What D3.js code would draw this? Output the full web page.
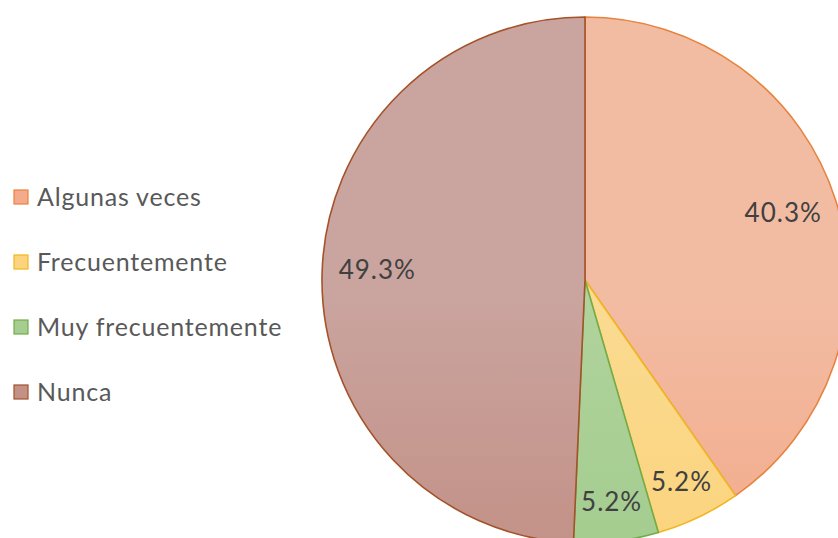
<!DOCTYPE html>
<html>
	<head>
		<meta charset="utf-8">
		<title></title>
		<style>
			body { margin: 0; background: #fff; }
			text { font-family: Lato, "Open Sans", sans-serif; }
		</style>
	</head>
	<body>
	<script src="https://d3js.org/d3.v7.min.js"></script>
	<script>
		var categories = ["Algunas veces", "Frecuentemente", "Muy frecuentemente", "Nunca"];
		var values = [40.3, 5.2, 5.2, 49.3];
		var labels = ["40.3%", "5.2%", "5.2%", "49.3%"];

		var fillTop    = ["#F2BCA3", "#FADB92", "#B0D39C", "#CAA49F"];
		var fillBottom = ["#F49A74", "#FCCC68", "#98C682", "#BB7D6D"];
		var strokes    = ["#E8833F", "#F2B620", "#72AC4A", "#A3522A"];

		var width = 838, height = 538;
		var cx = 585, cy = 280, r = 263;

		var svg = d3.select("body").append("svg")
			.attr("width", width)
			.attr("height", height);

		var defs = svg.append("defs");
		categories.forEach(function(c, i){
			var g = defs.append("linearGradient")
				.attr("id", "grad" + i)
				.attr("gradientUnits", "userSpaceOnUse")
				.attr("x1", 0).attr("y1", cy - r)
				.attr("x2", 0).attr("y2", cy + r);
			g.append("stop").attr("offset", "0%").attr("stop-color", fillTop[i]);
			g.append("stop").attr("offset", "100%").attr("stop-color", fillBottom[i]);
		});

		var pie = d3.pie().sort(null).value(function(d){ return d; });
		var arcs = pie(values);
		var arc = d3.arc().innerRadius(0).outerRadius(r);

		var g = svg.append("g").attr("transform", "translate(" + cx + "," + cy + ")");

		g.selectAll("path")
			.data(arcs)
			.enter()
			.append("path")
			.attr("d", arc)
			.attr("fill", function(d, i){ return "url(#grad" + i + ")"; })
			.attr("stroke", function(d, i){ return strokes[i]; })
			.attr("stroke-width", 1.6)
			.attr("stroke-linejoin", "round");

		g.selectAll(".lbl")
			.data(arcs)
			.enter()
			.append("text")
			.attr("class", "lbl")
			.attr("fill", "#404040")
			.attr("font-size", "26px")
			.attr("letter-spacing", "1px")
			.attr("text-anchor", "middle")
			.attr("dy", function(d){ return d.value < 10 ? "0.35em" : "0.15em"; })
			.attr("transform", function(d){
				var lr = d.value < 10 ? r * 0.85 : r * 0.79;
				var c = d3.arc().innerRadius(lr).outerRadius(lr).centroid(d);
				return "translate(" + c[0] + "," + c[1] + ")";
			})
			.text(function(d, i){ return labels[i]; });

		// leyenda
		var legend = svg.append("g").selectAll("g")
			.data(categories)
			.enter()
			.append("g")
			.attr("transform", function(d, i){ return "translate(14," + (197 + i * 65) + ")"; });

		legend.append("rect")
			.attr("x", 0).attr("y", -7)
			.attr("width", 14).attr("height", 14)
			.attr("fill", function(d, i){ return d3.interpolateRgb(fillTop[i], fillBottom[i])(0.5); })
			.attr("stroke", function(d, i){ return strokes[i]; })
			.attr("stroke-width", 1.2);

		legend.append("text")
			.attr("x", 23)
			.attr("dy", "0.35em")
			.attr("fill", "#595959")
			.attr("font-size", "25px")
			.attr("letter-spacing", "0.8px")
			.text(function(d){ return d; });
	</script>
	</body>
</html>
